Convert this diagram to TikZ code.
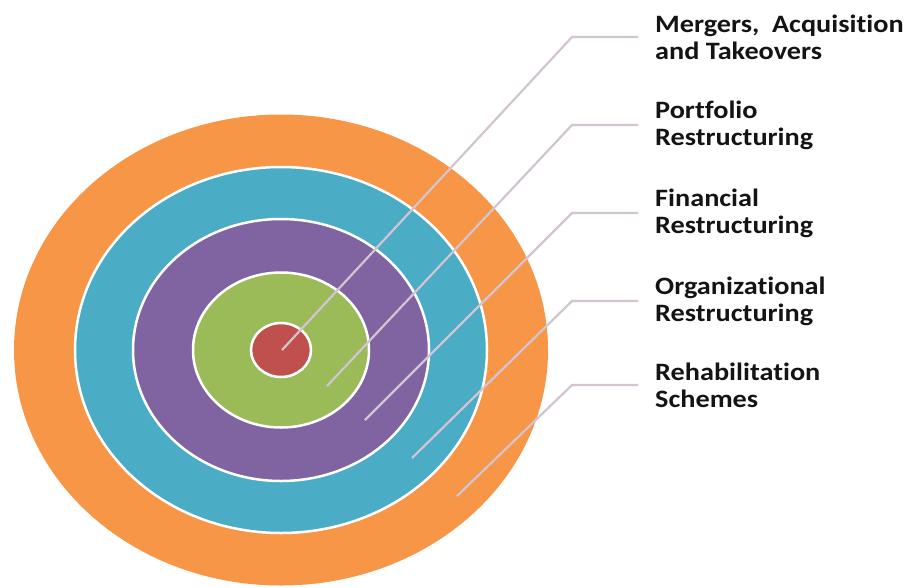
\documentclass[tikz,border=0pt]{standalone}
\usepackage{fontspec}
\setmainfont{Carlito}[FakeStretch=1.13, Ligatures=NoCommon]
\definecolor{ringorange}{HTML}{F79646}
\definecolor{ringteal}{HTML}{4BACC6}
\definecolor{ringpurple}{HTML}{8064A2}
\definecolor{ringgreen}{HTML}{9BBB59}
\definecolor{ringred}{HTML}{C0504D}
\definecolor{leadergray}{RGB}{210,196,208}
\definecolor{labelblack}{HTML}{141414}
\tikzset{
  ring/.style={draw=white, line width=2.5pt},
  leader/.style={draw=leadergray, line width=2.2pt, shorten >=17pt},
  labeltext/.style={anchor=west, inner sep=0pt, align=left, text=labelblack,
    font=\fontsize{25}{27}\selectfont\bfseries}
}
\begin{document}
\begin{tikzpicture}[x=1pt, y=-1pt]
  \useasboundingbox (0,0) rectangle (909,587);
  \fill[ringorange] (281,350) ellipse (267 and 235.5);
  \draw[ring, fill=ringteal] (281,350) ellipse (206 and 183);
  \draw[ring, fill=ringpurple] (281,350) ellipse (148 and 131);
  \draw[ring, fill=ringgreen] (281,350) ellipse (88 and 77.5);
  \draw[ring, fill=ringred] (281,350) ellipse (30 and 27);

  \coordinate (p1) at (282,350);
  \coordinate (p2) at (327,386);
  \coordinate (p3) at (365,420);
  \coordinate (p4) at (412,458);
  \coordinate (p5) at (457,496);

  \coordinate (c1) at (572,37);
  \coordinate (c2) at (572,125);
  \coordinate (c3) at (572,213);
  \coordinate (c4) at (572,301);
  \coordinate (c5) at (572,385);

  \node[labeltext] (t1) at (655,37) {Mergers,\ \ Acquisition\\and Takeovers};
  \node[labeltext] (t2) at (655,125) {Portfolio\\Restructuring};
  \node[labeltext] (t3) at (655,213) {Financial\\Restructuring};
  \node[labeltext] (t4) at (655,301) {Organizational\\Restructuring};
  \node[labeltext] (t5) at (655,385) {Rehabilitation\\Schemes};

  \draw[leader] (p1) -- (c1) -- (t1.west);
  \draw[leader] (p2) -- (c2) -- (t2.west);
  \draw[leader] (p3) -- (c3) -- (t3.west);
  \draw[leader] (p4) -- (c4) -- (t4.west);
  \draw[leader] (p5) -- (c5) -- (t5.west);
\end{tikzpicture}
\end{document}
